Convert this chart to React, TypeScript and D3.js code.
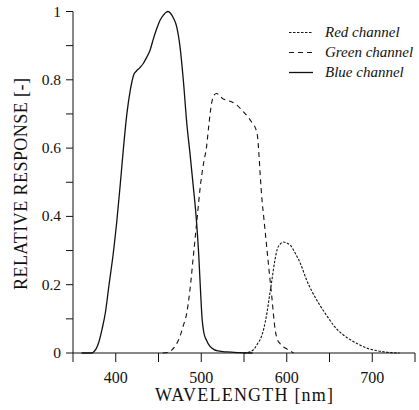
import React, { useEffect, useRef } from 'react';
import * as d3 from 'd3';

// values
const blueNm = [360, 372, 374, 377, 380, 384, 388, 392, 397, 401, 405, 409, 413, 417, 419, 421, 424, 428, 432, 436, 440, 444, 448, 452, 456, 459, 461, 464, 468, 471, 475, 479, 483, 487, 491, 494, 497, 499, 501, 503, 506, 510, 515, 520, 530, 545, 560];
const blueVal = [0, 0, 0.003, 0.012, 0.03, 0.07, 0.12, 0.197, 0.29, 0.38, 0.486, 0.6, 0.7, 0.77, 0.795, 0.815, 0.825, 0.835, 0.847, 0.865, 0.886, 0.92, 0.95, 0.975, 0.99, 0.998, 1.0, 0.995, 0.978, 0.958, 0.9, 0.8, 0.675, 0.58, 0.48, 0.4, 0.29, 0.19, 0.1, 0.06, 0.038, 0.02, 0.01, 0.006, 0.003, 0.001, 0];

const greenNm = [455, 462, 466, 470, 475, 479, 483, 487, 491, 495, 499, 503, 506, 509, 512, 515, 518, 521, 525, 530, 536, 542, 548, 555, 560, 564, 566, 567.5, 569, 571, 573, 575, 578.5, 582.5, 586.5, 589, 592, 596, 600, 604, 608];
const greenVal = [0, 0.002, 0.01, 0.022, 0.048, 0.08, 0.116, 0.19, 0.29, 0.39, 0.49, 0.56, 0.6, 0.67, 0.73, 0.755, 0.76, 0.755, 0.745, 0.74, 0.735, 0.725, 0.71, 0.69, 0.672, 0.655, 0.63, 0.58, 0.52, 0.45, 0.4, 0.35, 0.262, 0.165, 0.067, 0.04, 0.028, 0.018, 0.012, 0.006, 0];

const redNm = [550, 557, 562, 566, 569, 573, 577, 580, 583, 586, 589, 592, 596, 600, 604, 610, 616, 623, 630, 640, 648, 656, 665, 675, 685, 695, 703, 712, 722, 732];
const redVal = [0, 0.004, 0.012, 0.028, 0.04, 0.07, 0.12, 0.17, 0.22, 0.27, 0.305, 0.318, 0.325, 0.322, 0.316, 0.292, 0.262, 0.215, 0.178, 0.135, 0.105, 0.077, 0.055, 0.038, 0.024, 0.013, 0.008, 0.004, 0.001, 0];

const xTicks = [350, 400, 450, 500, 550, 600, 650, 700, 750];
const xLabels = [400, 500, 600, 700];
const yTicks = [0, 0.1, 0.2, 0.3, 0.4, 0.5, 0.6, 0.7, 0.8, 0.9, 1];
const yLabels = [0, 0.2, 0.4, 0.6, 0.8, 1];

const legendNames = ['Red channel', 'Green channel', 'Blue channel'];
const dashes = ['2.5,1.5', '5,4', null];

const FONT = '"Liberation Serif", "Times New Roman", "DejaVu Serif", serif';

const SpectralChart = () => {
  const svgRef = useRef(null);

  useEffect(() => {
    const svg = d3.select(svgRef.current);
    svg.selectAll('*').remove();

    const x = d3.scaleLinear().domain([350, 750]).range([73, 415]);
    const y = d3.scaleLinear().domain([0, 1]).range([353, 11.5]);
    const ink = '#111';

    // axes drawn by hand so the ticks keep the picture's lengths
    const ax = svg.append('g').attr('stroke', ink).attr('stroke-width', 1);
    ax.append('line').attr('x1', x(350)).attr('x2', x(750)).attr('y1', y(0)).attr('y2', y(0));
    ax.append('line').attr('x1', x(350)).attr('x2', x(350)).attr('y1', y(0)).attr('y2', y(1));
    ax.selectAll('.xt').data(xTicks).join('line')
      .attr('x1', d => x(d)).attr('x2', d => x(d))
      .attr('y1', y(0)).attr('y2', y(0) + 9);
    ax.selectAll('.yt').data(yTicks).join('line')
      .attr('x1', x(350) - 7).attr('x2', x(350))
      .attr('y1', d => y(d)).attr('y2', d => y(d));

    const txt = svg.append('g').style('font-family', FONT).attr('fill', ink);

    txt.append('g').selectAll('text').data(xLabels).join('text')
      .attr('x', d => x(d)).attr('y', 383)
      .attr('text-anchor', 'middle')
      .style('font-size', '16px')
      .text(d => d);

    txt.append('g').selectAll('text').data(yLabels).join('text')
      .attr('x', 61).attr('y', d => y(d) + 5)
      .attr('text-anchor', 'end')
      .style('font-size', '15.5px')
      .text(d => d);

    // textLength pins the titles to the widths measured on the reference
    txt.append('text')
      .attr('x', 244).attr('y', 401)
      .attr('text-anchor', 'middle')
      .attr('textLength', 178).attr('lengthAdjust', 'spacing')
      .style('font-size', '18px')
      .text('WAVELENGTH [nm]');

    txt.append('text')
      .attr('transform', 'translate(27,184) rotate(-90)')
      .attr('text-anchor', 'middle')
      .attr('textLength', 212).attr('lengthAdjust', 'spacing')
      .style('font-size', '18px')
      .text('RELATIVE RESPONSE [-]');

    const line = d3.line()
      .x(d => x(d[0]))
      .y(d => y(d[1]))
      .curve(d3.curveMonotoneX);

    const series = [
      d3.zip(redNm, redVal),
      d3.zip(greenNm, greenVal),
      d3.zip(blueNm, blueVal),
    ];

    series.forEach((s, i) => {
      svg.append('path')
        .datum(s)
        .attr('d', line)
        .attr('fill', 'none')
        .attr('stroke', ink)
        .attr('stroke-width', i === 2 ? 1.3 : 1.1)
        .attr('stroke-dasharray', dashes[i]);
    });

    // legend
    legendNames.forEach((name, i) => {
      const ly = 32.5 + i * 20;
      svg.append('line')
        .attr('x1', 289).attr('x2', 313).attr('y1', ly).attr('y2', ly)
        .attr('stroke', ink).attr('stroke-width', i === 2 ? 1.3 : 1.1)
        .attr('stroke-dasharray', dashes[i]);
      txt.append('text')
        .attr('x', 325).attr('y', ly + 4.5)
        .style('font-size', '15px').style('font-style', 'italic')
        .text(name);
    });
  }, []);

  return <svg ref={svgRef} width={419} height={410} style={{ position: 'absolute', left: 0, top: 0, background: '#fff' }} />;
};

export default function App() {
  return <SpectralChart />;
}
